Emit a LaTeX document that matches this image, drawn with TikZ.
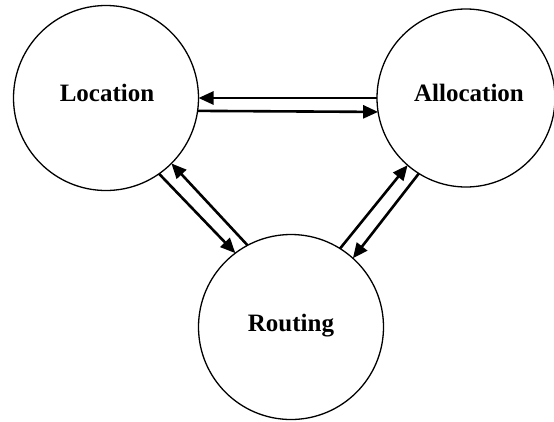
\documentclass[tikz,border=0pt]{standalone}
\usepackage{fontspec}
\setmainfont{Liberation Serif}
\usetikzlibrary{arrows.meta}
\begin{document}
\begin{tikzpicture}[x=1pt,y=-1pt,
  stage/.style={circle,draw,line width=1.3pt,inner sep=0pt,outer sep=0pt},
  lbl/.style={anchor=base,font=\fontsize{25}{28}\selectfont\bfseries},
  flow/.style={line width=2.6pt,-{Triangle[length=15pt,width=13pt]}}]
\useasboundingbox (0,0) rectangle (554,421);
\clip (0,0) rectangle (554,421);
\node[stage,minimum size=185pt] (loc) at (106,98) {};
\node[stage,minimum size=178pt] (alloc) at (466,98) {};
\node[stage,minimum size=185pt] (rout) at (291,327) {};
\node[lbl] (tloc) at (107,101) {Location};
\node[lbl] (talloc) at (469,101) {Allocation};
\node[lbl] (trout) at (291,331) {Routing};
\draw[flow] (alloc.180) -- (loc.0);
\draw[flow] (loc.-8.7) -- (alloc.189.05);
\draw[flow] (loc.-55.6) -- (rout.127.7);
\draw[flow] (rout.118.3) -- (loc.-45.8);
\draw[flow] (rout.58.2) -- (alloc.229.7);
\draw[flow] (alloc.238.7) -- (rout.48.3);
\end{tikzpicture}
\end{document}
